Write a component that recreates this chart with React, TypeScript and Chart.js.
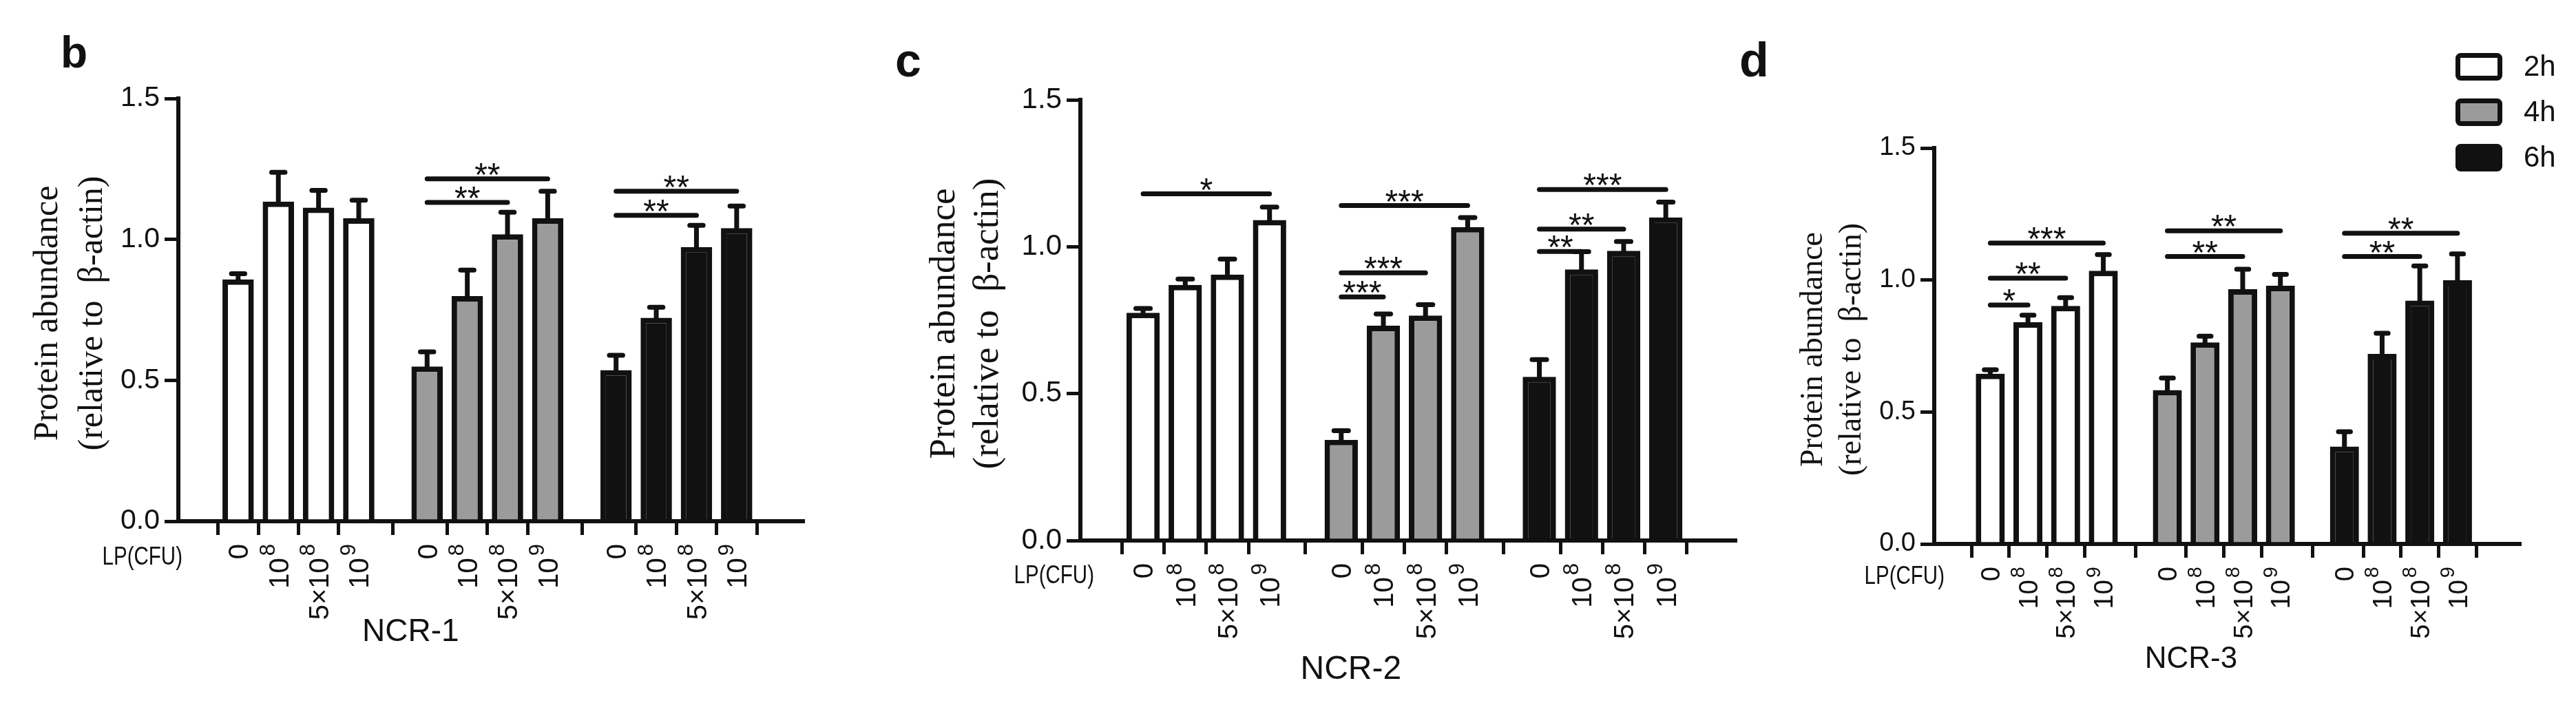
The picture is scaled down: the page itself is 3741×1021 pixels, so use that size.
import React, { useEffect, useRef } from "react";
import { Chart, registerables } from "chart.js";

Chart.register(...registerables);

// dose tick labels: base text + superscript exponent
const DOSE_BASE = ["0", "10", "5×10", "10"];
const DOSE_EXP = ["", "8", "8", "9"];
const TIME_LABELS = ["2h", "4h", "6h"];
const TIME_FILLS = ["#ffffff", "#9b9b9b", "#111111"];

// rows = 2h, 4h, 6h ; columns = dose
const NCR1_MEANS = [
	[0.858, 1.134, 1.113, 1.075],
	[0.549, 0.799, 1.018, 1.075],
	[0.536, 0.722, 0.973, 1.04],
];
const NCR1_ERRORS = [
	[0.02, 0.104, 0.061, 0.064],
	[0.052, 0.092, 0.078, 0.096],
	[0.053, 0.037, 0.077, 0.078],
];
// [time group, from dose, to dose, bracket height, stars]
const NCR1_SIGNIF: [number, number, number, number, string][] = [
	[1, 0, 2, 1.131, "**"],
	[1, 0, 3, 1.215, "**"],
	[2, 0, 2, 1.085, "**"],
	[2, 0, 3, 1.171, "**"],
];

const NCR2_MEANS = [
	[0.775, 0.87, 0.905, 1.091],
	[0.343, 0.731, 0.766, 1.067],
	[0.557, 0.923, 0.986, 1.1],
];
const NCR2_ERRORS = [
	[0.015, 0.02, 0.053, 0.044],
	[0.031, 0.04, 0.037, 0.032],
	[0.059, 0.06, 0.032, 0.052],
];
const NCR2_SIGNIF: [number, number, number, number, string][] = [
	[0, 0, 3, 1.18, "*"],
	[1, 0, 1, 0.829, "***"],
	[1, 0, 2, 0.911, "***"],
	[1, 0, 3, 1.14, "***"],
	[2, 0, 1, 0.984, "**"],
	[2, 0, 2, 1.06, "**"],
	[2, 0, 3, 1.195, "***"],
];

const NCR3_MEANS = [
	[0.645, 0.84, 0.902, 1.035],
	[0.583, 0.764, 0.965, 0.978],
	[0.369, 0.72, 0.922, 0.999],
];
const NCR3_ERRORS = [
	[0.015, 0.027, 0.031, 0.061],
	[0.046, 0.023, 0.076, 0.043],
	[0.056, 0.078, 0.131, 0.1],
];
const NCR3_SIGNIF: [number, number, number, number, string][] = [
	[0, 0, 1, 0.905, "*"],
	[0, 0, 2, 1.007, "**"],
	[0, 0, 3, 1.14, "***"],
	[1, 0, 2, 1.089, "**"],
	[1, 0, 3, 1.186, "**"],
	[2, 0, 2, 1.089, "**"],
	[2, 0, 3, 1.177, "**"],
];

const Y_TITLE = ["Protein abundance", "(relative to  β-actin)"];
const X_PREFIX = "LP(CFU)";

const FIG_W = 3741;
const FIG_H = 1021;
const GROUP_STRIDE = 4.7;
const X_MIN = -0.84;
const X_MAX = 13.4;
const INK = "#111111";
const SANS = "'Liberation Sans', Arial, Helvetica, sans-serif";
const SERIF = "'Liberation Serif', 'Times New Roman', serif";

interface PanelSpec {
	letter: string;
	name: string;
	means: number[][];
	errors: number[][];
	signif: [number, number, number, number, string][];
	left: number;
	width: number;
	area: { left: number; right: number; top: number; bottom: number };
	barPct: number;
	titleFont: number;
	titleBase: [number, number];
	letterPos: [number, number];
	letterFont: number;
	lpRight: number;
	lpDy: number;
	nameAt: number;
	nameDy: number;
	nameFont: number;
	yTickFont: number;
	xTickFont: number;
	legend: boolean;
}

const PANELS: PanelSpec[] = [
	{
		letter: "b", name: "NCR-1", means: NCR1_MEANS, errors: NCR1_ERRORS, signif: NCR1_SIGNIF,
		left: 0, width: 1260, area: { left: 259, right: 1166, top: 143, bottom: 757 },
		barPct: 0.78, titleFont: 50, titleBase: [176, 111], letterPos: [88, 98], letterFont: 64,
		lpRight: 6, lpDy: 53, nameAt: 4.29, nameDy: 174, nameFont: 46, yTickFont: 41, xTickFont: 40, legend: false,
	},
	{
		letter: "c", name: "NCR-2", means: NCR2_MEANS, errors: NCR2_ERRORS, signif: NCR2_SIGNIF,
		left: 1260, width: 1265, area: { left: 309, right: 1260, top: 145, bottom: 785 },
		barPct: 0.79, titleFont: 53, titleBase: [183, 120], letterPos: [40, 111], letterFont: 68,
		lpRight: 20, lpDy: 52, nameAt: 4.93, nameDy: 201, nameFont: 48, yTickFont: 42, xTickFont: 40, legend: false,
	},
	{
		letter: "d", name: "NCR-3", means: NCR3_MEANS, errors: NCR3_ERRORS, signif: NCR3_SIGNIF,
		left: 2525, width: 1216, area: { left: 284, right: 1134, top: 215, bottom: 790 },
		barPct: 0.77, titleFont: 46, titleBase: [163, 107], letterPos: [1, 111], letterFont: 70,
		lpRight: 15, lpDy: 48, nameAt: 5.33, nameDy: 180, nameFont: 44, yTickFont: 38, xTickFont: 38, legend: true,
	},
];

function extrasPlugin(spec: PanelSpec) {
	return {
		id: "figureExtras",
		afterDatasetsDraw(chart: any) {
			const { ctx } = chart;
			const xs = chart.scales.x;
			const ys = chart.scales.y;
			ctx.save();
			ctx.strokeStyle = INK;
			ctx.lineWidth = 7;
			// error bars (upper half only)
			spec.means.forEach((row, t) => {
				const meta = chart.getDatasetMeta(t);
				meta.data.forEach((bar: any, i: number) => {
					const top = ys.getPixelForValue(row[i] + spec.errors[t][i]);
					const half = bar.width * 0.29 - 3.5;
					ctx.lineCap = "butt";
					ctx.beginPath();
					ctx.moveTo(bar.x, bar.y + 4);
					ctx.lineTo(bar.x, top);
					ctx.stroke();
					ctx.lineCap = "round";
					ctx.beginPath();
					ctx.moveTo(bar.x - half, top);
					ctx.lineTo(bar.x + half, top);
					ctx.stroke();
				});
			});
			// significance brackets
			ctx.lineCap = "round";
			ctx.fillStyle = INK;
			ctx.font = `48px ${SANS}`;
			ctx.textAlign = "center";
			ctx.textBaseline = "alphabetic";
			spec.signif.forEach(([g, from, to, level, stars]) => {
				const x1 = xs.getPixelForValue(g * GROUP_STRIDE + from);
				const x2 = xs.getPixelForValue(g * GROUP_STRIDE + to);
				const py = ys.getPixelForValue(level);
				ctx.beginPath();
				ctx.moveTo(x1, py);
				ctx.lineTo(x2, py);
				ctx.stroke();
				ctx.fillText(stars, (x1 + x2) / 2, py + 10);
			});
			ctx.restore();
		},
		afterDraw(chart: any) {
			const { ctx, chartArea } = chart;
			const xs = chart.scales.x;
			ctx.save();
			ctx.fillStyle = INK;

			// rotated dose labels with superscript exponents, read bottom to top
			const baseFont = `${spec.xTickFont}px ${SANS}`;
			const supFont = `${Math.round(spec.xTickFont * 0.77)}px ${SANS}`;
			const baseShift = spec.xTickFont * 0.36;
			const supShift = baseShift - spec.xTickFont * 0.49;
			ctx.textAlign = "left";
			ctx.textBaseline = "alphabetic";
			xs.ticks.forEach((tk: any, i: number) => {
				const d = i % DOSE_BASE.length;
				const px = xs.getPixelForValue(tk.value);
				ctx.font = supFont;
				const supW = DOSE_EXP[d] ? ctx.measureText(DOSE_EXP[d]).width : 0;
				ctx.font = baseFont;
				const baseW = ctx.measureText(DOSE_BASE[d]).width;
				const gap = DOSE_EXP[d] ? 3 : 0;
				ctx.save();
				ctx.translate(px, chartArea.bottom + 33);
				ctx.rotate(-Math.PI / 2);
				ctx.fillText(DOSE_BASE[d], -(baseW + gap + supW), baseShift);
				if (DOSE_EXP[d]) {
					ctx.font = supFont;
					ctx.fillText(DOSE_EXP[d], -supW, supShift);
				}
				ctx.restore();
			});

			// y title, two rotated lines
			const cy = (chartArea.top + chartArea.bottom) / 2 + 5;
			ctx.font = `${spec.titleFont}px ${SERIF}`;
			ctx.textAlign = "center";
			ctx.textBaseline = "alphabetic";
			Y_TITLE.forEach((line, k) => {
				ctx.save();
				ctx.translate(chartArea.left - spec.titleBase[k], cy);
				ctx.rotate(-Math.PI / 2);
				ctx.fillText(line, 0, 0);
				ctx.restore();
			});

			// LP(CFU)
			ctx.save();
			ctx.translate(chartArea.left + spec.lpRight, chartArea.bottom + spec.lpDy);
			ctx.scale(0.82, 1);
			ctx.font = `36px ${SANS}`;
			ctx.textAlign = "right";
			ctx.textBaseline = "middle";
			ctx.fillText(X_PREFIX, 0, 0);
			ctx.restore();

			// NCR name
			ctx.font = `${spec.nameFont}px ${SANS}`;
			ctx.textAlign = "center";
			ctx.textBaseline = "alphabetic";
			ctx.fillText(spec.name, xs.getPixelForValue(spec.nameAt), chartArea.bottom + spec.nameDy);

			// panel letter
			ctx.font = `bold ${spec.letterFont}px ${SANS}`;
			ctx.textAlign = "left";
			ctx.fillText(spec.letter, spec.letterPos[0], spec.letterPos[1]);

			if (spec.legend) {
				const bx = 1041;
				const by = 77;
				TIME_LABELS.forEach((label, t) => {
					const top = by + t * 66;
					ctx.beginPath();
					ctx.roundRect(bx + 3.5, top + 3.5, 61, 33, 4);
					ctx.fillStyle = TIME_FILLS[t];
					ctx.fill();
					ctx.lineWidth = 7;
					ctx.strokeStyle = INK;
					ctx.stroke();
					ctx.fillStyle = INK;
					ctx.font = `42px ${SANS}`;
					ctx.textAlign = "left";
					ctx.textBaseline = "middle";
					ctx.fillText(label, bx + 99, top + 21);
				});
			}
			ctx.restore();
		},
	};
}

const Panel: React.FC<{ spec: PanelSpec }> = ({ spec }) => {
	const canvasRef = useRef<HTMLCanvasElement>(null);

	useEffect(() => {
		if (!canvasRef.current) return;
		const positions: number[] = [];
		spec.means.forEach((row, t) => row.forEach((_, i) => positions.push(t * GROUP_STRIDE + i)));

		const chart = new Chart(canvasRef.current, {
			type: "bar",
			data: {
				datasets: spec.means.map((row, t) => ({
					label: TIME_LABELS[t],
					data: row.map((v, i) => ({ x: t * GROUP_STRIDE + i, y: v })),
					backgroundColor: TIME_FILLS[t],
					borderColor: INK,
					borderWidth: 8,
					borderSkipped: "start",
				})),
			},
			options: {
				responsive: false,
				animation: false,
				events: [],
				layout: {
					padding: { left: 0, top: spec.area.top, right: spec.width - spec.area.right, bottom: 0 },
				},
				plugins: { legend: { display: false }, tooltip: { enabled: false } },
				datasets: { bar: { grouped: false, barPercentage: spec.barPct, categoryPercentage: 1 } },
				scales: {
					x: {
						type: "linear",
						min: X_MIN,
						max: X_MAX,
						afterFit: (s: any) => {
							s.height = FIG_H - spec.area.bottom;
						},
						afterBuildTicks: (s: any) => {
							s.ticks = positions.map((v) => ({ value: v }));
						},
						ticks: { display: false, autoSkip: false },
						grid: { drawOnChartArea: false, drawTicks: true, tickLength: 20, lineWidth: 5, color: INK },
						border: { display: true, width: 6, color: INK },
					},
					y: {
						min: 0,
						max: 1.5,
						afterFit: (s: any) => {
							s.width = spec.area.left;
						},
						ticks: {
							stepSize: 0.5,
							padding: 7,
							color: INK,
							font: { family: SANS, size: spec.yTickFont },
							callback: (v: any) => Number(v).toFixed(1),
						},
						grid: { drawOnChartArea: false, drawTicks: true, tickLength: 20, lineWidth: 5, color: INK },
						border: { display: true, width: 6, color: INK },
					},
				},
			} as any,
			plugins: [extrasPlugin(spec)],
		});

		return () => {
			chart.destroy();
		};
	}, [spec]);

	return (
		<div style={{ position: "absolute", left: spec.left, top: 0, width: spec.width, height: FIG_H }}>
			<canvas ref={canvasRef} width={spec.width} height={FIG_H} style={{ display: "block" }} />
		</div>
	);
};

export default function App() {
	return (
		<div
			style={{
				position: "fixed",
				left: 0,
				top: 0,
				width: FIG_W,
				height: FIG_H,
				background: "#ffffff",
				overflow: "hidden",
			}}
		>
			{PANELS.map((p) => (
				<Panel key={p.name} spec={p} />
			))}
		</div>
	);
}
